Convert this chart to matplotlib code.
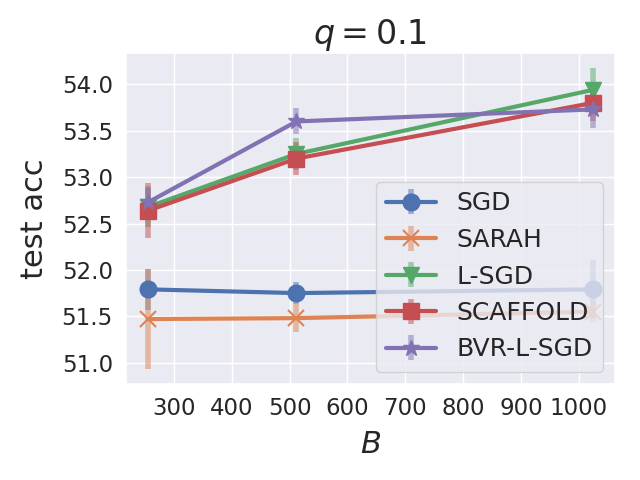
import numpy as np
import matplotlib
matplotlib.use("Agg")
import matplotlib.pyplot as plt
import seaborn as sns

sns.set_theme(style="darkgrid", font_scale=1.5)

B = [256, 512, 1024]
labels = ["SGD", "SARAH", "L-SGD", "SCAFFOLD", "BVR-L-SGD"]
markers = ["o", "x", "v", "s", "*"]

sgd = [51.79, 51.75, 51.79]
sgd_err = [0.22, 0.12, 0.32]
sarah = [51.47, 51.48, 51.55]
sarah_err = [0.54, 0.15, 0.11]
lsgd = [52.68, 53.25, 53.94]
lsgd_err = [0.22, 0.17, 0.24]
scaffold = [52.64, 53.20, 53.80]
scaffold_err = [0.30, 0.18, 0.2]
bvr = [52.73, 53.60, 53.73]
bvr_err = [0.15, 0.14, 0.2]

means = [sgd, sarah, lsgd, scaffold, bvr]
errs = [sgd_err, sarah_err, lsgd_err, scaffold_err, bvr_err]

fig, ax = plt.subplots(figsize=(6.4, 4.8), dpi=100)
colors = sns.color_palette("deep")
for i in range(5):
    eb = ax.errorbar(B, means[i], yerr=errs[i], label=labels[i], marker=markers[i],
                     color=colors[i], linewidth=3, markersize=12, elinewidth=4,
                     markeredgewidth=1.5 if markers[i] == "x" else 1)
    for l in eb[2]:
        l.set_alpha(0.5)

ax.xaxis.set_major_locator(matplotlib.ticker.MultipleLocator(100))
ax.yaxis.set_major_locator(matplotlib.ticker.MultipleLocator(0.5))
ax.yaxis.set_major_formatter(matplotlib.ticker.FormatStrFormatter("%.1f"))
ax.set_ylim(50.77, 54.34)
ax.set_title("$q=0.1$", fontsize=24)
ax.set_xlabel("$B$", fontsize=22, labelpad=7)
ax.set_ylabel("test acc", fontsize=22, labelpad=9)
ax.legend(loc="lower right", fontsize=18)
plt.subplots_adjust(left=0.197, right=0.961, top=0.89, bottom=0.2)
plt.savefig("out.png")
